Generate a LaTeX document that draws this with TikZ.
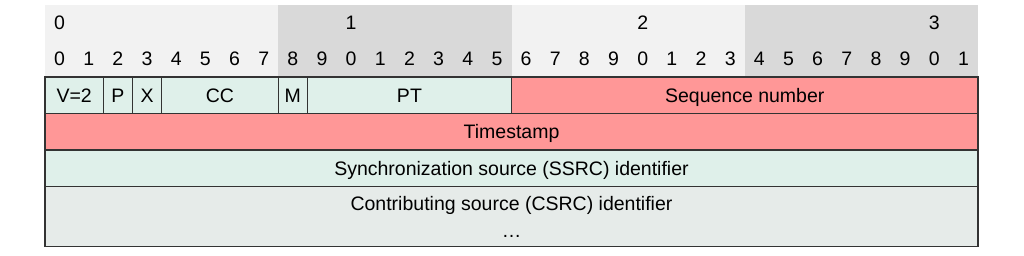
\documentclass[tikz,border=0pt]{standalone}
\usepackage{fontspec}
\setmainfont{Liberation Sans}
\definecolor{hdrlight}{HTML}{F2F2F2}
\definecolor{hdrdark}{HTML}{D9D9D9}
\definecolor{fgreen}{HTML}{DFF0EA}
\definecolor{fred}{HTML}{FF9797}
\definecolor{fgrey}{HTML}{E6EBE9}
\definecolor{edge}{HTML}{333333}
\begin{document}
\begin{tikzpicture}[x=1pt,y=-1pt,
  txt/.style={font=\fontsize{19.5}{23}\selectfont, text=black},
  hdrbox/.style={draw=none, inner sep=0pt, outer sep=0pt, anchor=north west, minimum height=72pt, minimum width=233.25pt},
  digit/.style={txt, inner sep=0pt, text height=14pt, text depth=0pt},
  field/.style={txt, draw=edge, line width=1.3pt, inner sep=0pt, outer sep=0pt, anchor=north west, minimum height=36.5pt},
  onerow/.style={field, text height=14pt, text depth=0pt},
]
\useasboundingbox (0,0) rectangle (1024,256);
% header backgrounds
\node[hdrbox, fill=hdrlight] (B0) at (45,5) {};
\node[hdrbox, fill=hdrdark]  (B1) at (278.25,5) {};
\node[hdrbox, fill=hdrlight] (B2) at (511.5,5) {};
\node[hdrbox, fill=hdrdark]  (B3) at (744.75,5) {};
% top digits
\node[digit] (T0) at ({45+29.156*0.5},23) {0};
\node[digit] (T1) at ({45+29.156*10.5},23) {1};
\node[digit] (T2) at ({45+29.156*20.5},23) {2};
\node[digit] (T3) at ({45+29.156*30.5},23) {3};
% bit digits
\foreach \i [evaluate=\i as \d using {int(mod(\i,10))}] in {0,...,31}
  \node[digit] (D\i) at ({45+29.156*(\i+0.5)},59) {\d};
% row 1
\node[onerow, fill=fgreen, minimum width={29.156pt*2}] (V) at (45,77) {V=2};
\node[onerow, fill=fgreen, minimum width={29.156pt}] (P) at ({45+29.156*2},77) {P};
\node[onerow, fill=fgreen, minimum width={29.156pt}] (X) at ({45+29.156*3},77) {X};
\node[onerow, fill=fgreen, minimum width={29.156pt*4}] (CC) at ({45+29.156*4},77) {CC};
\node[onerow, fill=fgreen, minimum width={29.156pt}] (M) at ({45+29.156*8},77) {M};
\node[onerow, fill=fgreen, minimum width={29.156pt*7}] (PT) at ({45+29.156*9},77) {PT};
\node[onerow, fill=fred, minimum width={29.156pt*16}] (SEQ) at ({45+29.156*16},77) {Sequence number};
% rows 2-3
\node[onerow, fill=fred, minimum width={29.156pt*32}] (TS) at (45,113.5) {Timestamp};
\node[onerow, fill=fgreen, minimum width={29.156pt*32}] (SSRC) at (45,150) {Synchronization source (SSRC) identifier};
% row 4
\node[field, fill=fgrey, minimum width={29.156pt*32}, minimum height=60pt, align=center,
      font=\fontsize{19.5}{27}\selectfont] (CSRC) at (45,186.5) {Contributing source (CSRC) identifier\\…};
\end{tikzpicture}
\end{document}
